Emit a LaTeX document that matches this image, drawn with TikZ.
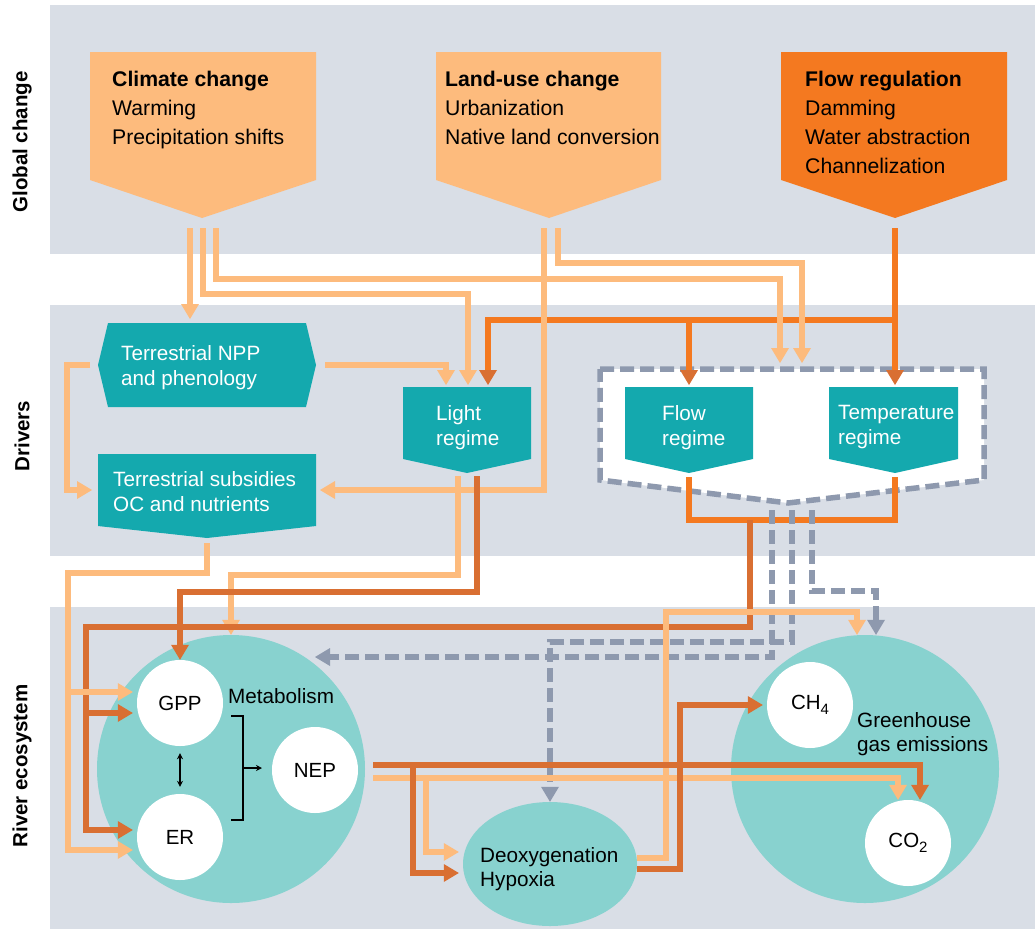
\documentclass[tikz,border=0pt]{standalone}
\usepackage{fontspec}
\setmainfont{Liberation Sans}
\usetikzlibrary{arrows.meta,positioning,shapes.geometric}

\definecolor{bandgray}{HTML}{D9DEE6}
\definecolor{lorange}{HTML}{FDBB7D}
\definecolor{forange}{HTML}{F47920}
\definecolor{dorange}{HTML}{D96F32}
\definecolor{tealbox}{HTML}{14A9AE}
\definecolor{tealcirc}{HTML}{88D2CF}
\definecolor{dashgray}{HTML}{8E99AE}

\newcommand\lowsub[1]{\raisebox{-5pt}{\fontsize{15}{15}\selectfont #1}}

\tikzset{
  tip/.style={-{Triangle[width=18pt,length=15pt,line width=0pt]}},
  darktip/.style={-{Triangle[width=18pt,length=15pt,line width=0pt,color=dorange]}},
  lightline/.style={draw=lorange, line width=6pt},
  flowline/.style={draw=forange, line width=6pt},
  darkline/.style={draw=dorange, line width=6pt},
  grayline/.style={draw=dashgray, line width=5.5pt, dash pattern=on 14pt off 6pt},
  boxtext/.style={inner sep=0, align=left, anchor=north west, font=\fontsize{21.2}{29}\selectfont},
  drvtext/.style={inner sep=0, align=left, anchor=north west, text=white, font=\fontsize{20.7}{25}\selectfont},
  sidelabel/.style={rotate=90, inner sep=0, font=\fontsize{20.5}{24}\selectfont\bfseries},
  bigcirc/.style={circle, fill=tealcirc, minimum size=268pt, inner sep=0},
  smallcirc/.style={circle, fill=white, minimum size=86pt, inner sep=0, font=\fontsize{20.5}{24}\selectfont},
  plaintext/.style={inner sep=0, align=left, font=\fontsize{20.7}{24}\selectfont},
}

\begin{document}
\begin{tikzpicture}[x=1pt, y=-1pt]
    \useasboundingbox (0,0) rectangle (1035,929);

    % Bands
    \fill[bandgray] (50,5) rectangle (1035,254);
    \fill[bandgray] (50,305) rectangle (1035,556);
    \fill[bandgray] (50,607) rectangle (1035,929);
    \node[sidelabel] (lblglobal) at (22,142) {Global change};
    \node[sidelabel] (lbldrivers) at (22,436) {Drivers};
    \node[sidelabel] (lblriver) at (22,766) {River ecosystem};

    % Global change boxes
    \fill[lorange] (90,52) -- (316,52) -- (316,180) -- (202,218) -- (90,180) -- cycle;
    \node[boxtext] (clim) at (112,71) {\textbf{Climate change}\\Warming\\Precipitation shifts};
    \fill[lorange] (436,52) -- (661,52) -- (661,180) -- (549,218) -- (436,180) -- cycle;
    \node[boxtext] (land) at (445,71) {\textbf{Land-use change}\\Urbanization\\Native land conversion};
    \fill[forange] (781,52) -- (1007,52) -- (1007,180) -- (895,218) -- (781,180) -- cycle;
    \node[boxtext] (flowreg) at (805,71) {\textbf{Flow regulation}\\Damming\\Water abstraction\\Channelization};

    % Drivers
    \fill[tealbox] (108,323) -- (306,323) -- (316,365) -- (306,407) -- (108,407) -- (98,365) -- cycle;
    \node[drvtext] (npp) at (121,345) {Terrestrial NPP\\and phenology};
    \fill[tealbox] (98,454) -- (316,454) -- (316,526) -- (207,538) -- (98,526) -- cycle;
    \node[drvtext] (subs) at (113,471) {Terrestrial subsidies\\OC and nutrients};
    \fill[tealbox] (403,387) -- (531,387) -- (531,459) -- (467,473) -- (403,459) -- cycle;
    \node[drvtext] (light) at (436,405) {Light\\regime};
    \draw[grayline, fill=white] (600,369) -- (984,369) -- (984,480) -- (788,503) -- (600,480) -- cycle;
    \fill[tealbox] (625,387) -- (753,387) -- (753,459) -- (689,473) -- (625,459) -- cycle;
    \node[drvtext] (flowrg) at (662,405) {Flow\\regime};
    \fill[tealbox] (829,387) -- (958,387) -- (958,459) -- (895,473) -- (829,459) -- cycle;
    \node[drvtext] (temp) at (838,405) {Temperature\\regime};

    % River ecosystem
    \node[bigcirc] (met) at (231,769) {};
    \node[bigcirc] (ghg) at (865,769) {};
    \node[ellipse, fill=tealcirc, minimum width=174pt, minimum height=124pt, inner sep=0] (deox) at (550,864) {};
    \node[smallcirc] (gpp) at (180,703) {GPP};
    \node[smallcirc] (er) at (180,837) {ER};
    \node[smallcirc] (nep) at (315,770) {NEP};
    \node[smallcirc] (ch4) at (810,705) {CH\lowsub{4}};
    \node[smallcirc] (co2) at (908,843) {CO\lowsub{2}};
    \node[plaintext, anchor=base west] (metlbl) at (228,703) {Metabolism};
    \node[plaintext, anchor=north west] (ghglbl) at (857,712) {Greenhouse\\gas emissions};
    \node[plaintext, anchor=north west] (deoxlbl) at (480,847) {Deoxygenation\\Hypoxia};

    % Ports
    \coordinate (cc1) at (190,228);
    \coordinate (cc2) at (203,228);
    \coordinate (cc3) at (216,228);
    \coordinate (lu1) at (544,228);
    \coordinate (lu2) at (558,228);
    \coordinate (fr) at (895,228);
    \coordinate (frbr) at (895,320);
    \coordinate (nppin) at (190,319);
    \coordinate (nppr) at (325,365);
    \coordinate (nppl) at (90,365);
    \coordinate (subsin) at (92,490);
    \coordinate (subsr) at (320,490);
    \coordinate (subsout) at (207,543);
    \coordinate (lrin1) at (446,385);
    \coordinate (lrin2) at (468,385);
    \coordinate (lrin3) at (488,385);
    \coordinate (lrout1) at (458,476);
    \coordinate (lrout2) at (477,476);
    \coordinate (flin) at (689,385);
    \coordinate (flout) at (689,477);
    \coordinate (tpin) at (895,385);
    \coordinate (tpout) at (895,477);
    \coordinate (dbin1) at (780,363);
    \coordinate (dbin2) at (802,363);
    \coordinate (db1) at (772,510);
    \coordinate (db2) at (792,510);
    \coordinate (db3) at (812,510);
    \coordinate (mrg) at (750,520);
    \coordinate (gleft) at (86,627);
    \coordinate (gbr) at (86,713);
    \coordinate (eleft) at (68,573);
    \coordinate (ebr) at (68,692);
    \coordinate (metin) at (315,657);
    \coordinate (i1top) at (666,612);
    \coordinate (i2top) at (680,705);
    \coordinate (j3) at (413,765);
    \coordinate (j4) at (426,778);

    % Flow regulation
    \draw[flowline, darktip] (fr) -- (tpin);
    \draw[flowline, darktip] (frbr) -| (lrin3);
    \draw[flowline, darktip] (flin |- frbr) -- (flin);

    % Climate, land use, NPP
    \draw[lightline, tip] (cc1) -- (nppin);
    \draw[lightline, tip] (cc2) -- ++(0,66) -| (lrin2);
    \draw[lightline, tip] (cc3) -- ++(0,51) -| (dbin1);
    \draw[lightline, tip] (lu1) |- (subsr);
    \draw[lightline, tip] (lu2) -- ++(0,35) -| (dbin2);
    \draw[lightline, tip] (nppr) -| (lrin1);
    \draw[lightline, tip] (nppl) -- ++(-23,0) |- (subsin);

    % Light regime
    \draw[lightline, tip] (lrout1) -- ++(0,99) -| (met.north);
    \draw[darkline, tip] (lrout2) -- ++(0,116) -| (gpp.north);

    % Flow and temperature regime
    \draw[flowline] (flout) |- (mrg) -| (tpout);
    \draw[darkline, tip] (mrg) |- (gleft) |- ([shift={(-4pt,7pt)}]er.west);
    \draw[darkline, tip] (gbr) -- ([shift={(-4pt,-10pt)}]gpp.west);

    % Terrestrial subsidies
    \draw[lightline, tip] (subsout) |- (eleft) |- ([shift={(-4pt,-13pt)}]er.west);
    \draw[lightline, tip] (ebr) -- ([shift={(-4pt,11pt)}]gpp.west);

    % Dashed links
    \draw[grayline, tip] (db1) |- (metin);
    \draw[grayline, tip] (db2) -- ++(0,132) -| (deox.north);
    \draw[grayline, tip] (db3) -- ++(0,81) -| ([xshift=11pt]ghg.north);

    % Deoxygenation and NEP
    \draw[lightline, tip] ([yshift=6pt]deox.east) -| (i1top) -| ([xshift=-8pt]ghg.north);
    \draw[lightline, tip] ([shift={(15pt,-8pt)}]nep.east) -| ([xshift=-10pt]co2.north);
    \draw[lightline, tip] (j4) |- ([shift={(-4pt,12pt)}]deox.west);
    \draw[darkline, tip] ([shift={(15pt,5pt)}]nep.east) -| ([xshift=12pt]co2.north);
    \draw[darkline, tip] (j3) |- ([shift={(-4pt,-9pt)}]deox.west);
    \draw[darkline, tip] ([yshift=-5pt]deox.east) -| (i2top) -- ([xshift=-4pt]ch4.west);

    % Metabolism bracket
    \draw[line width=1.3pt, {Stealth[length=6pt,width=6pt]}-{Stealth[length=6pt,width=6pt]}] ([yshift=-7pt]gpp.south) -- ([yshift=7pt]er.north);
    \coordinate (brk) at (243,768);
    \draw[line width=1.3pt] (231,716) -- (243,716) -- (243,820) -- (231,820);
    \draw[line width=1.3pt, -{Stealth[length=6pt,width=6pt]}] (brk) -- ++(19,0);
\end{tikzpicture}
\end{document}
